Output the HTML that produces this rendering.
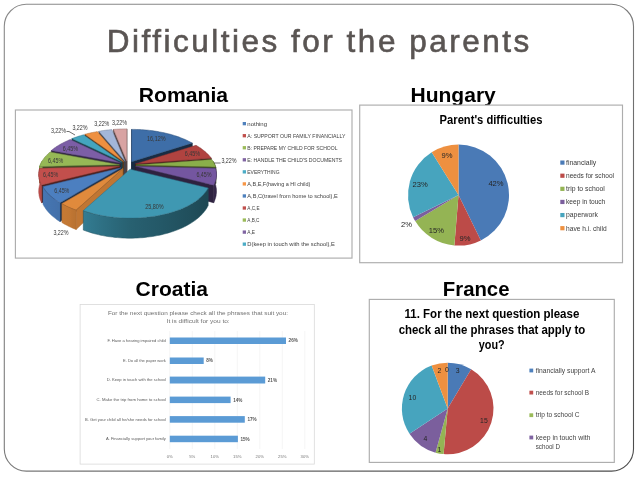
<!DOCTYPE html>
<html><head><meta charset="utf-8"><title>Difficulties for the parents</title>
<style>
html,body{margin:0;padding:0;background:#fff;}
body{width:638px;height:478px;overflow:hidden;font-family:"Liberation Sans", sans-serif;}
svg{display:block;font-family:"Liberation Sans", sans-serif;filter:blur(0.35px);}
</style></head><body>
<svg width="638" height="478" viewBox="0 0 638 478">
<defs>
<linearGradient id="frm" x1="0" y1="0" x2="1" y2="1">
<stop offset="0" stop-color="#8a8a8a"/><stop offset="0.5" stop-color="#7a7a7a"/><stop offset="1" stop-color="#4a4a4a"/>
</linearGradient>
</defs>
<rect width="638" height="478" fill="#fff"/>

<rect x="4.3" y="4.3" width="629.2" height="466.8" rx="22" ry="22" fill="#fff" stroke="url(#frm)" stroke-width="1.1"/>
<text x="106.8" y="51.7" font-size="31.5" fill="#5a5553" stroke="#5a5553" stroke-width="0.6" textLength="422.5" lengthAdjust="spacing">Difficulties for the parents</text>
<text x="138.80" y="102.00" font-size="21" fill="#000" font-weight="bold" textLength="89.30" lengthAdjust="spacingAndGlyphs" >Romania</text>
<text x="410.50" y="102.00" font-size="21" fill="#000" font-weight="bold" textLength="85.30" lengthAdjust="spacingAndGlyphs" >Hungary</text>
<text x="135.60" y="296.20" font-size="21" fill="#000" font-weight="bold" textLength="72.40" lengthAdjust="spacingAndGlyphs" >Croatia</text>
<text x="442.80" y="296.40" font-size="21" fill="#000" font-weight="bold" textLength="66.70" lengthAdjust="spacingAndGlyphs" >France</text>
<rect x="15.4" y="110" width="336.6" height="148.1" fill="#fff" stroke="#adadad" stroke-width="1.15"/>
<defs><linearGradient id="w8" gradientUnits="userSpaceOnUse" x1="39.5" y1="0" x2="42.3" y2="0"><stop offset="0.000" stop-color="#91b253"/><stop offset="0.125" stop-color="#91b253"/><stop offset="0.250" stop-color="#91b253"/><stop offset="0.375" stop-color="#91b253"/><stop offset="0.500" stop-color="#91b253"/><stop offset="0.625" stop-color="#91b253"/><stop offset="0.750" stop-color="#91b253"/><stop offset="0.875" stop-color="#91b253"/><stop offset="1.000" stop-color="#91b253"/></linearGradient><linearGradient id="w2" gradientUnits="userSpaceOnUse" x1="213.0" y1="0" x2="215.8" y2="0"><stop offset="0.000" stop-color="#3e4e21"/><stop offset="0.125" stop-color="#3e4e21"/><stop offset="0.250" stop-color="#3e4e21"/><stop offset="0.375" stop-color="#3e4e21"/><stop offset="0.500" stop-color="#3e4e21"/><stop offset="0.625" stop-color="#3e4e21"/><stop offset="0.750" stop-color="#3e4e21"/><stop offset="0.875" stop-color="#3e4e21"/><stop offset="1.000" stop-color="#3e4e21"/></linearGradient><linearGradient id="w7" gradientUnits="userSpaceOnUse" x1="41.5" y1="0" x2="39.7" y2="0"><stop offset="0.000" stop-color="#b64a47"/><stop offset="0.125" stop-color="#b64a47"/><stop offset="0.250" stop-color="#b64a47"/><stop offset="0.375" stop-color="#b64a47"/><stop offset="0.500" stop-color="#b74a47"/><stop offset="0.625" stop-color="#b74a47"/><stop offset="0.750" stop-color="#b74a48"/><stop offset="0.875" stop-color="#b74a48"/><stop offset="1.000" stop-color="#bc4c49"/></linearGradient><linearGradient id="w3" gradientUnits="userSpaceOnUse" x1="215.5" y1="0" x2="213.7" y2="0"><stop offset="0.000" stop-color="#342648"/><stop offset="0.125" stop-color="#35274a"/><stop offset="0.250" stop-color="#35274a"/><stop offset="0.375" stop-color="#36284a"/><stop offset="0.500" stop-color="#36284a"/><stop offset="0.625" stop-color="#36284a"/><stop offset="0.750" stop-color="#36284a"/><stop offset="0.875" stop-color="#36284b"/><stop offset="1.000" stop-color="#36284b"/></linearGradient><linearGradient id="w6" gradientUnits="userSpaceOnUse" x1="60.0" y1="0" x2="43.0" y2="0"><stop offset="0.000" stop-color="#4370aa"/><stop offset="0.125" stop-color="#4371aa"/><stop offset="0.250" stop-color="#4471ac"/><stop offset="0.375" stop-color="#4472ad"/><stop offset="0.500" stop-color="#4473ae"/><stop offset="0.625" stop-color="#4574af"/><stop offset="0.750" stop-color="#4574b0"/><stop offset="0.875" stop-color="#4675b2"/><stop offset="1.000" stop-color="#4777b4"/></linearGradient><linearGradient id="w5" gradientUnits="userSpaceOnUse" x1="76.1" y1="0" x2="61.9" y2="0"><stop offset="0.000" stop-color="#b77131"/><stop offset="0.125" stop-color="#ba7332"/><stop offset="0.250" stop-color="#bd7432"/><stop offset="0.375" stop-color="#c07633"/><stop offset="0.500" stop-color="#c27834"/><stop offset="0.625" stop-color="#c37834"/><stop offset="0.750" stop-color="#c47934"/><stop offset="0.875" stop-color="#c57934"/><stop offset="1.000" stop-color="#c67a35"/></linearGradient><linearGradient id="w4" gradientUnits="userSpaceOnUse" x1="208.2" y1="0" x2="83.3" y2="0"><stop offset="0.000" stop-color="#1d4753"/><stop offset="0.125" stop-color="#204e5b"/><stop offset="0.250" stop-color="#225361"/><stop offset="0.375" stop-color="#245867"/><stop offset="0.500" stop-color="#265c6c"/><stop offset="0.625" stop-color="#286171"/><stop offset="0.750" stop-color="#2b697b"/><stop offset="0.875" stop-color="#2f7286"/><stop offset="1.000" stop-color="#337c92"/></linearGradient></defs>
<path d="M126.8,161.2 L113.5,129.4 L113.5,142.8 L126.8,177.2Z" fill="#564140" stroke="#4d3a3a" stroke-width="0.6" stroke-linejoin="round"/><path d="M126.8,161.2 L126.8,128.9 L126.8,142.2 L126.8,177.2Z" fill="#564140" stroke="#4d3a3a" stroke-width="0.6" stroke-linejoin="round"/><path d="M126.8,161.2 L113.5,129.4 L115.1,129.3 L116.8,129.2 L118.5,129.1 L120.1,129.0 L121.8,129.0 L123.4,128.9 L125.1,128.9 L126.8,128.9Z" fill="#D8A3A2" stroke="#9b7574" stroke-width="0.5" stroke-linejoin="round"/>
<path d="M125.1,161.4 L98.9,131.3 L98.9,144.7 L125.1,177.4Z" fill="#414856" stroke="#3a414d" stroke-width="0.6" stroke-linejoin="round"/><path d="M125.1,161.4 L98.9,131.3 L100.5,131.0 L102.1,130.7 L103.7,130.5 L105.3,130.3 L106.9,130.1 L108.6,129.9 L110.2,129.7 L111.9,129.6Z" fill="#A3B6D8" stroke="#75839b" stroke-width="0.5" stroke-linejoin="round"/>
<path d="M123.6,161.7 L84.9,134.3 L84.9,148.0 L123.6,177.7Z" fill="#5f3919" stroke="#553317" stroke-width="0.6" stroke-linejoin="round"/><path d="M123.6,161.7 L84.9,134.3 L86.4,133.9 L87.9,133.5 L89.5,133.2 L91.0,132.8 L92.6,132.5 L94.1,132.2 L95.7,131.9 L97.3,131.6Z" fill="#EE9040" stroke="#ab672e" stroke-width="0.5" stroke-linejoin="round"/>
<path d="M131.6,161.7 L131.6,129.4 L131.6,142.7 L131.6,177.7Z" fill="#182c43" stroke="#16273c" stroke-width="0.6" stroke-linejoin="round"/><path d="M131.6,161.7 L192.3,143.1 L192.3,157.6 L131.6,177.7Z" fill="#182c43" stroke="#16273c" stroke-width="0.6" stroke-linejoin="round"/><path d="M131.6,161.7 L131.6,129.4 L133.3,129.4 L135.0,129.4 L136.6,129.5 L138.3,129.5 L139.9,129.6 L141.6,129.7 L143.3,129.8 L144.9,129.9 L146.6,130.1 L148.2,130.2 L149.8,130.4 L151.5,130.6 L153.1,130.8 L154.7,131.1 L156.3,131.3 L157.9,131.6 L159.5,131.9 L161.1,132.2 L162.7,132.5 L164.2,132.8 L165.8,133.2 L167.3,133.6 L168.9,133.9 L170.4,134.3 L171.9,134.8 L173.4,135.2 L174.8,135.7 L176.3,136.1 L177.7,136.6 L179.2,137.1 L180.6,137.7 L181.9,138.2 L183.3,138.8 L184.7,139.3 L186.0,139.9 L187.3,140.5 L188.6,141.2 L189.8,141.8 L191.1,142.5 L192.3,143.1Z" fill="#3E6EA8" stroke="#2c4f78" stroke-width="0.5" stroke-linejoin="round"/>
<path d="M122.2,162.2 L71.9,138.6 L71.9,152.7 L122.2,178.2Z" fill="#1b424c" stroke="#183b44" stroke-width="0.6" stroke-linejoin="round"/><path d="M122.2,162.2 L71.9,138.6 L73.3,138.1 L74.7,137.6 L76.2,137.1 L77.6,136.6 L79.0,136.1 L80.5,135.7 L82.0,135.2 L83.5,134.8Z" fill="#44A5BF" stroke="#307689" stroke-width="0.5" stroke-linejoin="round"/>
<path d="M120.6,163.1 L51.3,150.5 L51.3,165.4 L120.6,179.1Z" fill="#312542" stroke="#2c213b" stroke-width="0.6" stroke-linejoin="round"/><path d="M120.6,163.1 L51.3,150.5 L52.2,149.7 L53.3,148.9 L54.3,148.1 L55.4,147.4 L56.5,146.6 L57.6,145.9 L58.8,145.2 L60.0,144.5 L61.2,143.8 L62.4,143.2 L63.7,142.5 L65.0,141.9 L66.3,141.3 L67.6,140.7 L68.9,140.1 L70.3,139.6Z" fill="#7C5EA6" stroke="#594377" stroke-width="0.5" stroke-linejoin="round"/>
<path d="M135.4,163.9 L211.3,158.2 L211.3,173.7 L135.4,179.9Z" fill="#461a19" stroke="#3f1817" stroke-width="0.6" stroke-linejoin="round"/><path d="M135.4,163.9 L196.0,145.3 L197.2,146.0 L198.4,146.7 L199.5,147.4 L200.6,148.1 L201.7,148.9 L202.7,149.7 L203.7,150.5 L204.7,151.3 L205.7,152.1 L206.6,152.9 L207.4,153.7 L208.3,154.6 L209.1,155.5 L209.9,156.4 L210.6,157.3 L211.3,158.2Z" fill="#B04340" stroke="#7e302e" stroke-width="0.5" stroke-linejoin="round"/>
<path d="M119.4,164.7 L39.5,166.6 L39.5,182.8 L119.4,180.7Z" fill="#3c4922" stroke="#36421e" stroke-width="0.6" stroke-linejoin="round"/><path d="M39.5,166.6 L39.9,165.6 L40.3,164.7 L40.7,163.7 L41.2,162.7 L41.7,161.7 L42.3,160.8 L42.3,176.5 L41.7,177.5 L41.2,178.5 L40.7,179.6 L40.3,180.7 L39.9,181.7 L39.5,182.8Z" fill="url(#w8)" stroke="#85a34c" stroke-width="0.5" stroke-linejoin="round"/><path d="M119.4,164.7 L39.5,166.6 L39.9,165.6 L40.3,164.7 L40.7,163.7 L41.2,162.7 L41.7,161.7 L42.3,160.8 L42.9,159.9 L43.5,158.9 L44.2,158.0 L44.9,157.1 L45.7,156.2 L46.5,155.4 L47.4,154.5 L48.2,153.7 L49.2,152.8 L50.1,152.0Z" fill="#96B856" stroke="#6c843d" stroke-width="0.5" stroke-linejoin="round"/>
<path d="M135.9,165.1 L215.8,167.1 L215.8,183.3 L135.9,181.1Z" fill="#37451d" stroke="#313e1a" stroke-width="0.6" stroke-linejoin="round"/><path d="M213.0,161.2 L213.6,162.2 L214.1,163.1 L214.6,164.1 L215.0,165.1 L215.4,166.1 L215.8,167.1 L215.8,183.3 L215.4,182.2 L215.0,181.1 L214.6,180.0 L214.1,179.0 L213.6,177.9 L213.0,176.9Z" fill="url(#w2)" stroke="#39481e" stroke-width="0.5" stroke-linejoin="round"/><path d="M135.9,165.1 L211.8,159.4 L212.4,160.3 L213.0,161.2 L213.6,162.2 L214.1,163.1 L214.6,164.1 L215.0,165.1 L215.4,166.1 L215.8,167.1Z" fill="#8AAE4A" stroke="#637d35" stroke-width="0.5" stroke-linejoin="round"/>
<path d="M119.6,166.3 L41.5,185.1 L41.5,202.7 L119.6,182.3Z" fill="#4d1f1e" stroke="#451c1b" stroke-width="0.6" stroke-linejoin="round"/><path d="M41.5,185.1 L41.0,184.1 L40.5,183.0 L40.0,181.9 L39.7,180.9 L39.4,179.8 L39.1,178.7 L39.0,177.6 L38.8,176.6 L38.7,175.5 L38.7,174.5 L38.8,173.4 L38.8,172.4 L39.0,171.3 L39.2,170.3 L39.4,169.3 L39.7,168.3 L39.7,184.4 L39.4,185.5 L39.2,186.6 L39.0,187.8 L38.8,188.9 L38.8,190.0 L38.7,191.1 L38.7,192.3 L38.8,193.4 L39.0,194.6 L39.1,195.7 L39.4,196.9 L39.7,198.1 L40.0,199.2 L40.5,200.4 L41.0,201.6 L41.5,202.7Z" fill="url(#w7)" stroke="#ab4543" stroke-width="0.5" stroke-linejoin="round"/><path d="M119.6,166.3 L41.5,185.1 L41.0,184.1 L40.5,183.0 L40.0,181.9 L39.7,180.9 L39.4,179.8 L39.1,178.7 L39.0,177.6 L38.8,176.6 L38.7,175.5 L38.7,174.5 L38.8,173.4 L38.8,172.4 L39.0,171.3 L39.2,170.3 L39.4,169.3 L39.7,168.3Z" fill="#C24F4C" stroke="#8b3836" stroke-width="0.5" stroke-linejoin="round"/>
<path d="M135.6,166.3 L213.7,185.2 L213.7,202.7 L135.6,182.3Z" fill="#2e2240" stroke="#291e39" stroke-width="0.6" stroke-linejoin="round"/><path d="M215.5,168.3 L215.8,169.3 L216.0,170.3 L216.2,171.4 L216.4,172.4 L216.4,173.4 L216.5,174.5 L216.5,175.6 L216.4,176.6 L216.2,177.7 L216.1,178.7 L215.8,179.8 L215.5,180.9 L215.1,182.0 L214.7,183.0 L214.2,184.1 L213.7,185.2 L213.7,202.7 L214.2,201.6 L214.7,200.4 L215.1,199.3 L215.5,198.1 L215.8,196.9 L216.1,195.8 L216.2,194.6 L216.4,193.5 L216.5,192.3 L216.5,191.2 L216.4,190.0 L216.4,188.9 L216.2,187.8 L216.0,186.7 L215.8,185.6 L215.5,184.5Z" fill="url(#w3)" stroke="#302443" stroke-width="0.5" stroke-linejoin="round"/><path d="M135.6,166.3 L215.5,168.3 L215.8,169.3 L216.0,170.3 L216.2,171.4 L216.4,172.4 L216.4,173.4 L216.5,174.5 L216.5,175.6 L216.4,176.6 L216.2,177.7 L216.1,178.7 L215.8,179.8 L215.5,180.9 L215.1,182.0 L214.7,183.0 L214.2,184.1 L213.7,185.2Z" fill="#7456A0" stroke="#533d73" stroke-width="0.5" stroke-linejoin="round"/>
<path d="M121.0,167.8 L60.0,202.7 L60.0,221.6 L121.0,183.8Z" fill="#1e324c" stroke="#1b2d45" stroke-width="0.6" stroke-linejoin="round"/><path d="M60.0,202.7 L58.5,201.8 L57.0,200.9 L55.6,199.9 L54.3,199.0 L53.0,198.0 L51.8,197.0 L50.6,196.0 L49.5,195.0 L48.5,194.0 L47.5,193.0 L46.6,191.9 L45.7,190.9 L45.0,189.8 L44.2,188.7 L43.6,187.7 L43.0,186.6 L43.0,204.2 L43.6,205.3 L44.2,206.5 L45.0,207.6 L45.7,208.8 L46.6,209.9 L47.5,211.1 L48.5,212.2 L49.5,213.3 L50.6,214.4 L51.8,215.5 L53.0,216.5 L54.3,217.6 L55.6,218.6 L57.0,219.7 L58.5,220.7 L60.0,221.6Z" fill="url(#w6)" stroke="#3f6aa1" stroke-width="0.5" stroke-linejoin="round"/><path d="M121.0,167.8 L60.0,202.7 L58.5,201.8 L57.0,200.9 L55.6,199.9 L54.3,199.0 L53.0,198.0 L51.8,197.0 L50.6,196.0 L49.5,195.0 L48.5,194.0 L47.5,193.0 L46.6,191.9 L45.7,190.9 L45.0,189.8 L44.2,188.7 L43.6,187.7 L43.0,186.6Z" fill="#4C7FC0" stroke="#365b8a" stroke-width="0.5" stroke-linejoin="round"/>
<path d="M122.9,168.6 L76.1,210.1 L76.1,229.5 L122.9,184.6Z" fill="#c07633" stroke="#ad6a2e" stroke-width="0.6" stroke-linejoin="round"/><path d="M76.1,210.1 L74.1,209.3 L72.2,208.6 L70.3,207.8 L68.5,207.0 L66.8,206.2 L65.1,205.3 L63.4,204.5 L61.9,203.6 L61.9,222.5 L63.4,223.5 L65.1,224.4 L66.8,225.3 L68.5,226.2 L70.3,227.1 L72.2,227.9 L74.1,228.7 L76.1,229.5Z" fill="url(#w5)" stroke="#b36e30" stroke-width="0.5" stroke-linejoin="round"/><path d="M122.9,168.6 L76.1,210.1 L74.1,209.3 L72.2,208.6 L70.3,207.8 L68.5,207.0 L66.8,206.2 L65.1,205.3 L63.4,204.5 L61.9,203.6Z" fill="#E08A3C" stroke="#a1632b" stroke-width="0.5" stroke-linejoin="round"/>
<path d="M208.2,188.0 L207.5,189.1 L206.9,190.2 L206.2,191.2 L205.4,192.3 L204.5,193.3 L203.6,194.4 L202.6,195.4 L201.6,196.4 L200.5,197.4 L199.3,198.4 L198.1,199.4 L196.8,200.4 L195.5,201.4 L194.0,202.3 L192.6,203.2 L191.0,204.1 L189.5,205.0 L187.8,205.9 L186.1,206.8 L184.4,207.6 L182.5,208.4 L180.7,209.2 L178.8,209.9 L176.8,210.6 L174.8,211.3 L172.7,212.0 L170.6,212.6 L168.5,213.2 L166.3,213.8 L164.0,214.3 L161.8,214.8 L159.5,215.3 L157.1,215.8 L154.8,216.2 L152.4,216.5 L149.9,216.8 L147.5,217.1 L145.0,217.4 L142.6,217.6 L140.1,217.8 L137.6,217.9 L135.1,218.0 L132.5,218.1 L130.0,218.1 L127.5,218.1 L125.0,218.0 L122.5,217.9 L120.0,217.8 L117.5,217.6 L115.0,217.4 L112.6,217.1 L110.1,216.8 L107.7,216.5 L105.3,216.1 L102.9,215.7 L100.6,215.3 L98.3,214.8 L96.0,214.3 L93.8,213.8 L91.6,213.2 L89.5,212.6 L87.4,212.0 L85.3,211.3 L83.3,210.6 L83.3,230.1 L85.3,230.8 L87.4,231.5 L89.5,232.2 L91.6,232.9 L93.8,233.5 L96.0,234.1 L98.3,234.6 L100.6,235.2 L102.9,235.6 L105.3,236.1 L107.7,236.5 L110.1,236.8 L112.6,237.1 L115.0,237.4 L117.5,237.6 L120.0,237.8 L122.5,238.0 L125.0,238.1 L127.5,238.2 L130.0,238.2 L132.5,238.2 L135.1,238.1 L137.6,238.0 L140.1,237.8 L142.6,237.7 L145.0,237.4 L147.5,237.1 L149.9,236.8 L152.4,236.5 L154.8,236.1 L157.1,235.6 L159.5,235.2 L161.8,234.7 L164.0,234.1 L166.3,233.5 L168.5,232.9 L170.6,232.2 L172.7,231.6 L174.8,230.8 L176.8,230.1 L178.8,229.3 L180.7,228.5 L182.5,227.7 L184.4,226.8 L186.1,225.9 L187.8,225.0 L189.5,224.0 L191.0,223.1 L192.6,222.1 L194.0,221.1 L195.5,220.1 L196.8,219.0 L198.1,218.0 L199.3,216.9 L200.5,215.8 L201.6,214.7 L202.6,213.6 L203.6,212.5 L204.5,211.3 L205.4,210.2 L206.2,209.1 L206.9,207.9 L207.5,206.8 L208.2,205.6Z" fill="url(#w4)" stroke="#21515f" stroke-width="0.5" stroke-linejoin="round"/><path d="M130.1,169.2 L208.2,188.0 L207.5,189.1 L206.9,190.2 L206.2,191.2 L205.4,192.3 L204.5,193.3 L203.6,194.4 L202.6,195.4 L201.6,196.4 L200.5,197.4 L199.3,198.4 L198.1,199.4 L196.8,200.4 L195.5,201.4 L194.0,202.3 L192.6,203.2 L191.0,204.1 L189.5,205.0 L187.8,205.9 L186.1,206.8 L184.4,207.6 L182.5,208.4 L180.7,209.2 L178.8,209.9 L176.8,210.6 L174.8,211.3 L172.7,212.0 L170.6,212.6 L168.5,213.2 L166.3,213.8 L164.0,214.3 L161.8,214.8 L159.5,215.3 L157.1,215.8 L154.8,216.2 L152.4,216.5 L149.9,216.8 L147.5,217.1 L145.0,217.4 L142.6,217.6 L140.1,217.8 L137.6,217.9 L135.1,218.0 L132.5,218.1 L130.0,218.1 L127.5,218.1 L125.0,218.0 L122.5,217.9 L120.0,217.8 L117.5,217.6 L115.0,217.4 L112.6,217.1 L110.1,216.8 L107.7,216.5 L105.3,216.1 L102.9,215.7 L100.6,215.3 L98.3,214.8 L96.0,214.3 L93.8,213.8 L91.6,213.2 L89.5,212.6 L87.4,212.0 L85.3,211.3 L83.3,210.6Z" fill="#3F98B2" stroke="#2d6d80" stroke-width="0.5" stroke-linejoin="round"/>
<text x="50.90" y="132.57" font-size="6.3" fill="#383838" textLength="15.20" lengthAdjust="spacingAndGlyphs" >3,22%</text>
<text x="72.40" y="130.17" font-size="6.3" fill="#383838" textLength="15.20" lengthAdjust="spacingAndGlyphs" >3,22%</text>
<text x="94.20" y="125.97" font-size="6.3" fill="#383838" textLength="15.20" lengthAdjust="spacingAndGlyphs" >3,22%</text>
<text x="111.90" y="125.47" font-size="6.3" fill="#383838" textLength="15.20" lengthAdjust="spacingAndGlyphs" >3,22%</text>
<text x="62.80" y="150.87" font-size="6.3" fill="#383838" textLength="15.20" lengthAdjust="spacingAndGlyphs" >6,45%</text>
<text x="48.10" y="162.67" font-size="6.3" fill="#383838" textLength="15.20" lengthAdjust="spacingAndGlyphs" >6,45%</text>
<text x="43.10" y="177.17" font-size="6.3" fill="#383838" textLength="15.20" lengthAdjust="spacingAndGlyphs" >6,45%</text>
<text x="54.20" y="192.77" font-size="6.3" fill="#383838" textLength="15.20" lengthAdjust="spacingAndGlyphs" >6,45%</text>
<text x="53.40" y="234.87" font-size="6.3" fill="#383838" textLength="15.20" lengthAdjust="spacingAndGlyphs" >3,22%</text>
<text x="184.80" y="156.47" font-size="6.3" fill="#383838" textLength="15.20" lengthAdjust="spacingAndGlyphs" >6,45%</text>
<text x="221.40" y="163.07" font-size="6.3" fill="#383838" textLength="15.20" lengthAdjust="spacingAndGlyphs" >3,22%</text>
<text x="196.40" y="176.77" font-size="6.3" fill="#383838" textLength="15.20" lengthAdjust="spacingAndGlyphs" >6,45%</text>
<text x="147.05" y="140.87" font-size="6.3" fill="#383838" textLength="18.50" lengthAdjust="spacingAndGlyphs" >16,12%</text>
<text x="145.15" y="208.87" font-size="6.3" fill="#383838" textLength="18.50" lengthAdjust="spacingAndGlyphs" >25,80%</text>
<path d="M214,163 L220.6,163" stroke="#333" stroke-width="0.7" fill="none"/>
<path d="M66.5,131.5 L69,131.5 L75,135" stroke="#333" stroke-width="0.7" fill="none"/>
<rect x="242.7" y="122.00" width="3.3" height="3.3" fill="#4F81BD"/>
<text x="247.30" y="125.80" font-size="6.2" fill="#404040" textLength="19.70" lengthAdjust="spacingAndGlyphs" >nothing</text>
<rect x="242.7" y="134.05" width="3.3" height="3.3" fill="#C0504D"/>
<text x="247.30" y="137.85" font-size="6.2" fill="#404040" textLength="98.10" lengthAdjust="spacingAndGlyphs" >A: SUPPORT OUR FAMILY FINANCIALLY</text>
<rect x="242.7" y="146.10" width="3.3" height="3.3" fill="#9BBB59"/>
<text x="247.30" y="149.90" font-size="6.2" fill="#404040" textLength="90.20" lengthAdjust="spacingAndGlyphs" >B: PREPARE MY CHILD FOR SCHOOL</text>
<rect x="242.7" y="158.15" width="3.3" height="3.3" fill="#8064A2"/>
<text x="247.30" y="161.95" font-size="6.2" fill="#404040" textLength="94.70" lengthAdjust="spacingAndGlyphs" >E: HANDLE THE CHILD'S DOCUMENTS</text>
<rect x="242.7" y="170.20" width="3.3" height="3.3" fill="#4BACC6"/>
<text x="247.30" y="174.00" font-size="6.2" fill="#404040" textLength="32.20" lengthAdjust="spacingAndGlyphs" >EVERYTHING</text>
<rect x="242.7" y="182.25" width="3.3" height="3.3" fill="#F79646"/>
<text x="247.30" y="186.05" font-size="6.2" fill="#404040" textLength="63.10" lengthAdjust="spacingAndGlyphs" >A,B,E,F(having a HI child)</text>
<rect x="242.7" y="194.30" width="3.3" height="3.3" fill="#4F81BD"/>
<text x="247.30" y="198.10" font-size="6.2" fill="#404040" textLength="90.50" lengthAdjust="spacingAndGlyphs" >A,B,C(travel from home to school),E</text>
<rect x="242.7" y="206.35" width="3.3" height="3.3" fill="#C0504D"/>
<text x="247.30" y="210.15" font-size="6.2" fill="#404040" textLength="12.20" lengthAdjust="spacingAndGlyphs" >A,C,E</text>
<rect x="242.7" y="218.40" width="3.3" height="3.3" fill="#9BBB59"/>
<text x="247.30" y="222.20" font-size="6.2" fill="#404040" textLength="12.20" lengthAdjust="spacingAndGlyphs" >A,B,C</text>
<rect x="242.7" y="230.45" width="3.3" height="3.3" fill="#8064A2"/>
<text x="247.30" y="234.25" font-size="6.2" fill="#404040" textLength="7.70" lengthAdjust="spacingAndGlyphs" >A,E</text>
<rect x="242.7" y="242.50" width="3.3" height="3.3" fill="#4BACC6"/>
<text x="247.30" y="246.30" font-size="6.2" fill="#404040" textLength="87.50" lengthAdjust="spacingAndGlyphs" >D(keep in touch with the school),E</text>
<rect x="359.7" y="105.1" width="262.8" height="157.6" fill="#fff" stroke="#adadad" stroke-width="1.15"/>
<text x="439.60" y="123.80" font-size="12.5" fill="#000" font-weight="bold" textLength="102.80" lengthAdjust="spacingAndGlyphs" >Parent's difficulties</text>
<path d="M458.50,195.10 L458.50,144.60 A50.5,50.5 0 0 1 480.86,240.38Z" fill="#4A7AB6"/>
<path d="M458.50,195.10 L480.86,240.38 A50.5,50.5 0 0 1 454.38,245.43Z" fill="#BC4B48"/>
<path d="M458.50,195.10 L454.38,245.43 A50.5,50.5 0 0 1 415.19,221.08Z" fill="#94B454"/>
<path d="M458.50,195.10 L415.19,221.08 A50.5,50.5 0 0 1 413.08,217.17Z" fill="#7B5F9D"/>
<path d="M458.50,195.10 L413.08,217.17 A50.5,50.5 0 0 1 431.71,152.29Z" fill="#47A4BE"/>
<path d="M458.50,195.10 L431.71,152.29 A50.5,50.5 0 0 1 458.50,144.60Z" fill="#EE9040"/>
<text x="496.00" y="186.44" font-size="7.6" fill="#262626" text-anchor="middle" >42%</text>
<text x="465.00" y="240.94" font-size="7.6" fill="#262626" text-anchor="middle" >9%</text>
<text x="436.30" y="233.04" font-size="7.6" fill="#262626" text-anchor="middle" >15%</text>
<text x="406.60" y="227.44" font-size="7.6" fill="#262626" text-anchor="middle" >2%</text>
<text x="420.10" y="187.34" font-size="7.6" fill="#262626" text-anchor="middle" >23%</text>
<text x="447.10" y="157.74" font-size="7.6" fill="#262626" text-anchor="middle" >9%</text>
<rect x="560.3" y="160.50" width="4.2" height="4.2" fill="#4A7AB6"/>
<text x="566.00" y="164.90" font-size="7.0" fill="#3a3a3a" textLength="30.20" lengthAdjust="spacingAndGlyphs" >financially</text>
<rect x="560.3" y="173.62" width="4.2" height="4.2" fill="#BC4B48"/>
<text x="566.00" y="178.02" font-size="7.0" fill="#3a3a3a" textLength="48.00" lengthAdjust="spacingAndGlyphs" >needs for school</text>
<rect x="560.3" y="186.74" width="4.2" height="4.2" fill="#94B454"/>
<text x="566.00" y="191.14" font-size="7.0" fill="#3a3a3a" textLength="38.90" lengthAdjust="spacingAndGlyphs" >trip to school</text>
<rect x="560.3" y="199.86" width="4.2" height="4.2" fill="#7B5F9D"/>
<text x="566.00" y="204.26" font-size="7.0" fill="#3a3a3a" textLength="39.30" lengthAdjust="spacingAndGlyphs" >keep in touch</text>
<rect x="560.3" y="212.98" width="4.2" height="4.2" fill="#47A4BE"/>
<text x="566.00" y="217.38" font-size="7.0" fill="#3a3a3a" textLength="31.90" lengthAdjust="spacingAndGlyphs" >paperwork</text>
<rect x="560.3" y="226.10" width="4.2" height="4.2" fill="#EE9040"/>
<text x="566.00" y="230.50" font-size="7.0" fill="#3a3a3a" textLength="40.60" lengthAdjust="spacingAndGlyphs" >have h.i. child</text>
<rect x="80.1" y="304.4" width="234.2" height="159.7" fill="#fff" stroke="#d9d9d9" stroke-width="0.8"/>
<path d="M169.8,331 V449" stroke="#eeeeee" stroke-width="0.6"/>
<path d="M192.3,331 V449" stroke="#eeeeee" stroke-width="0.6"/>
<path d="M214.8,331 V449" stroke="#eeeeee" stroke-width="0.6"/>
<path d="M237.3,331 V449" stroke="#eeeeee" stroke-width="0.6"/>
<path d="M259.8,331 V449" stroke="#eeeeee" stroke-width="0.6"/>
<path d="M282.3,331 V449" stroke="#eeeeee" stroke-width="0.6"/>
<path d="M304.8,331 V449" stroke="#eeeeee" stroke-width="0.6"/>
<text x="107.90" y="314.60" font-size="6.2" fill="#707070" textLength="180.10" lengthAdjust="spacingAndGlyphs" >For the next question please check all the phrases that suit you:</text>
<text x="166.60" y="322.80" font-size="6.2" fill="#707070" textLength="63.10" lengthAdjust="spacingAndGlyphs" >It is difficult for you to:</text>
<rect x="169.8" y="337.5" width="116.2" height="6.5" fill="#5B9BD5"/>
<text x="288.60" y="342.45" font-size="4.6" fill="#555" font-weight="bold" >26%</text>
<text x="107.50" y="342.15" font-size="3.9" fill="#5a5a5a" textLength="58.30" lengthAdjust="spacingAndGlyphs" >F. Have a hearing impaired child</text>
<rect x="169.8" y="357.5" width="33.9" height="6.5" fill="#5B9BD5"/>
<text x="206.30" y="362.45" font-size="4.6" fill="#555" font-weight="bold" >8%</text>
<text x="123.00" y="362.15" font-size="3.9" fill="#5a5a5a" textLength="42.80" lengthAdjust="spacingAndGlyphs" >E. Do all the paper work</text>
<rect x="169.8" y="376.6" width="95.4" height="6.9" fill="#5B9BD5"/>
<text x="267.80" y="381.75" font-size="4.6" fill="#555" font-weight="bold" >21%</text>
<text x="106.70" y="381.45" font-size="3.9" fill="#5a5a5a" textLength="59.10" lengthAdjust="spacingAndGlyphs" >D. Keep in touch with the school</text>
<rect x="169.8" y="396.6" width="60.8" height="6.5" fill="#5B9BD5"/>
<text x="233.20" y="401.55" font-size="4.6" fill="#555" font-weight="bold" >14%</text>
<text x="96.50" y="401.25" font-size="3.9" fill="#5a5a5a" textLength="69.30" lengthAdjust="spacingAndGlyphs" >C. Make the trip from home to school</text>
<rect x="169.8" y="416.1" width="75.0" height="6.6" fill="#5B9BD5"/>
<text x="247.40" y="421.10" font-size="4.6" fill="#555" font-weight="bold" >17%</text>
<text x="85.00" y="420.80" font-size="3.9" fill="#5a5a5a" textLength="80.80" lengthAdjust="spacingAndGlyphs" >B. Get your child all he/she needs for school</text>
<rect x="169.8" y="435.7" width="68.1" height="6.5" fill="#5B9BD5"/>
<text x="240.50" y="440.65" font-size="4.6" fill="#555" font-weight="bold" >15%</text>
<text x="105.90" y="440.35" font-size="3.9" fill="#5a5a5a" textLength="59.90" lengthAdjust="spacingAndGlyphs" >A. Financially support your family</text>
<text x="169.80" y="457.90" font-size="4.2" fill="#777" text-anchor="middle" >0%</text>
<text x="192.30" y="457.90" font-size="4.2" fill="#777" text-anchor="middle" >5%</text>
<text x="214.80" y="457.90" font-size="4.2" fill="#777" text-anchor="middle" >10%</text>
<text x="237.30" y="457.90" font-size="4.2" fill="#777" text-anchor="middle" >15%</text>
<text x="259.80" y="457.90" font-size="4.2" fill="#777" text-anchor="middle" >20%</text>
<text x="282.30" y="457.90" font-size="4.2" fill="#777" text-anchor="middle" >25%</text>
<text x="304.80" y="457.90" font-size="4.2" fill="#777" text-anchor="middle" >30%</text>
<rect x="369.3" y="299.4" width="245" height="163" fill="#fff" stroke="#adadad" stroke-width="1.15"/>
<text x="404.50" y="317.90" font-size="12.4" fill="#000" font-weight="bold" textLength="174.80" lengthAdjust="spacingAndGlyphs" >11. For the next question please</text>
<text x="398.70" y="333.80" font-size="12.4" fill="#000" font-weight="bold" textLength="186.60" lengthAdjust="spacingAndGlyphs" >check all the phrases that apply to</text>
<text x="478.80" y="349.40" font-size="12.4" fill="#000" font-weight="bold" textLength="25.90" lengthAdjust="spacingAndGlyphs" >you?</text>
<path d="M447.70,408.50 L447.70,362.70 A45.8,45.8 0 0 1 471.19,369.18Z" fill="#4A7AB6"/>
<path d="M447.70,408.50 L471.19,369.18 A45.8,45.8 0 0 1 443.59,454.12Z" fill="#BC4B48"/>
<path d="M447.70,408.50 L443.59,454.12 A45.8,45.8 0 0 1 435.52,452.65Z" fill="#94B454"/>
<path d="M447.70,408.50 L435.52,452.65 A45.8,45.8 0 0 1 409.48,433.73Z" fill="#7B5F9D"/>
<path d="M447.70,408.50 L409.48,433.73 A45.8,45.8 0 0 1 431.61,365.62Z" fill="#47A4BE"/>
<path d="M447.70,408.50 L431.61,365.62 A45.8,45.8 0 0 1 447.70,362.70Z" fill="#EE9040"/>
<text x="457.70" y="373.15" font-size="6.8" fill="#262626" text-anchor="middle" >3</text>
<text x="483.90" y="422.65" font-size="6.8" fill="#262626" text-anchor="middle" >15</text>
<text x="439.50" y="451.65" font-size="6.8" fill="#262626" text-anchor="middle" >1</text>
<text x="425.50" y="441.35" font-size="6.8" fill="#262626" text-anchor="middle" >4</text>
<text x="412.40" y="400.25" font-size="6.8" fill="#262626" text-anchor="middle" >10</text>
<text x="439.50" y="373.15" font-size="6.8" fill="#262626" text-anchor="middle" >2</text>
<text x="447.00" y="372.25" font-size="6.8" fill="#262626" text-anchor="middle" >0</text>
<rect x="529.4" y="368.60" width="3.8" height="3.8" fill="#4F81BD"/>
<text x="535.70" y="372.70" font-size="6.6" fill="#444" textLength="59.70" lengthAdjust="spacingAndGlyphs" >financially support A</text>
<rect x="529.4" y="390.70" width="3.8" height="3.8" fill="#C0504D"/>
<text x="535.70" y="394.80" font-size="6.6" fill="#444" textLength="53.40" lengthAdjust="spacingAndGlyphs" >needs for school B</text>
<rect x="529.4" y="413.30" width="3.8" height="3.8" fill="#9BBB59"/>
<text x="535.70" y="417.40" font-size="6.6" fill="#444" textLength="43.90" lengthAdjust="spacingAndGlyphs" >trip to school C</text>
<rect x="529.4" y="435.60" width="3.8" height="3.8" fill="#8064A2"/>
<text x="535.70" y="439.70" font-size="6.6" fill="#444" textLength="54.70" lengthAdjust="spacingAndGlyphs" >keep in touch with</text>
<text x="535.70" y="448.50" font-size="6.6" fill="#444" textLength="24.30" lengthAdjust="spacingAndGlyphs" >school D</text>
</svg></body></html>
